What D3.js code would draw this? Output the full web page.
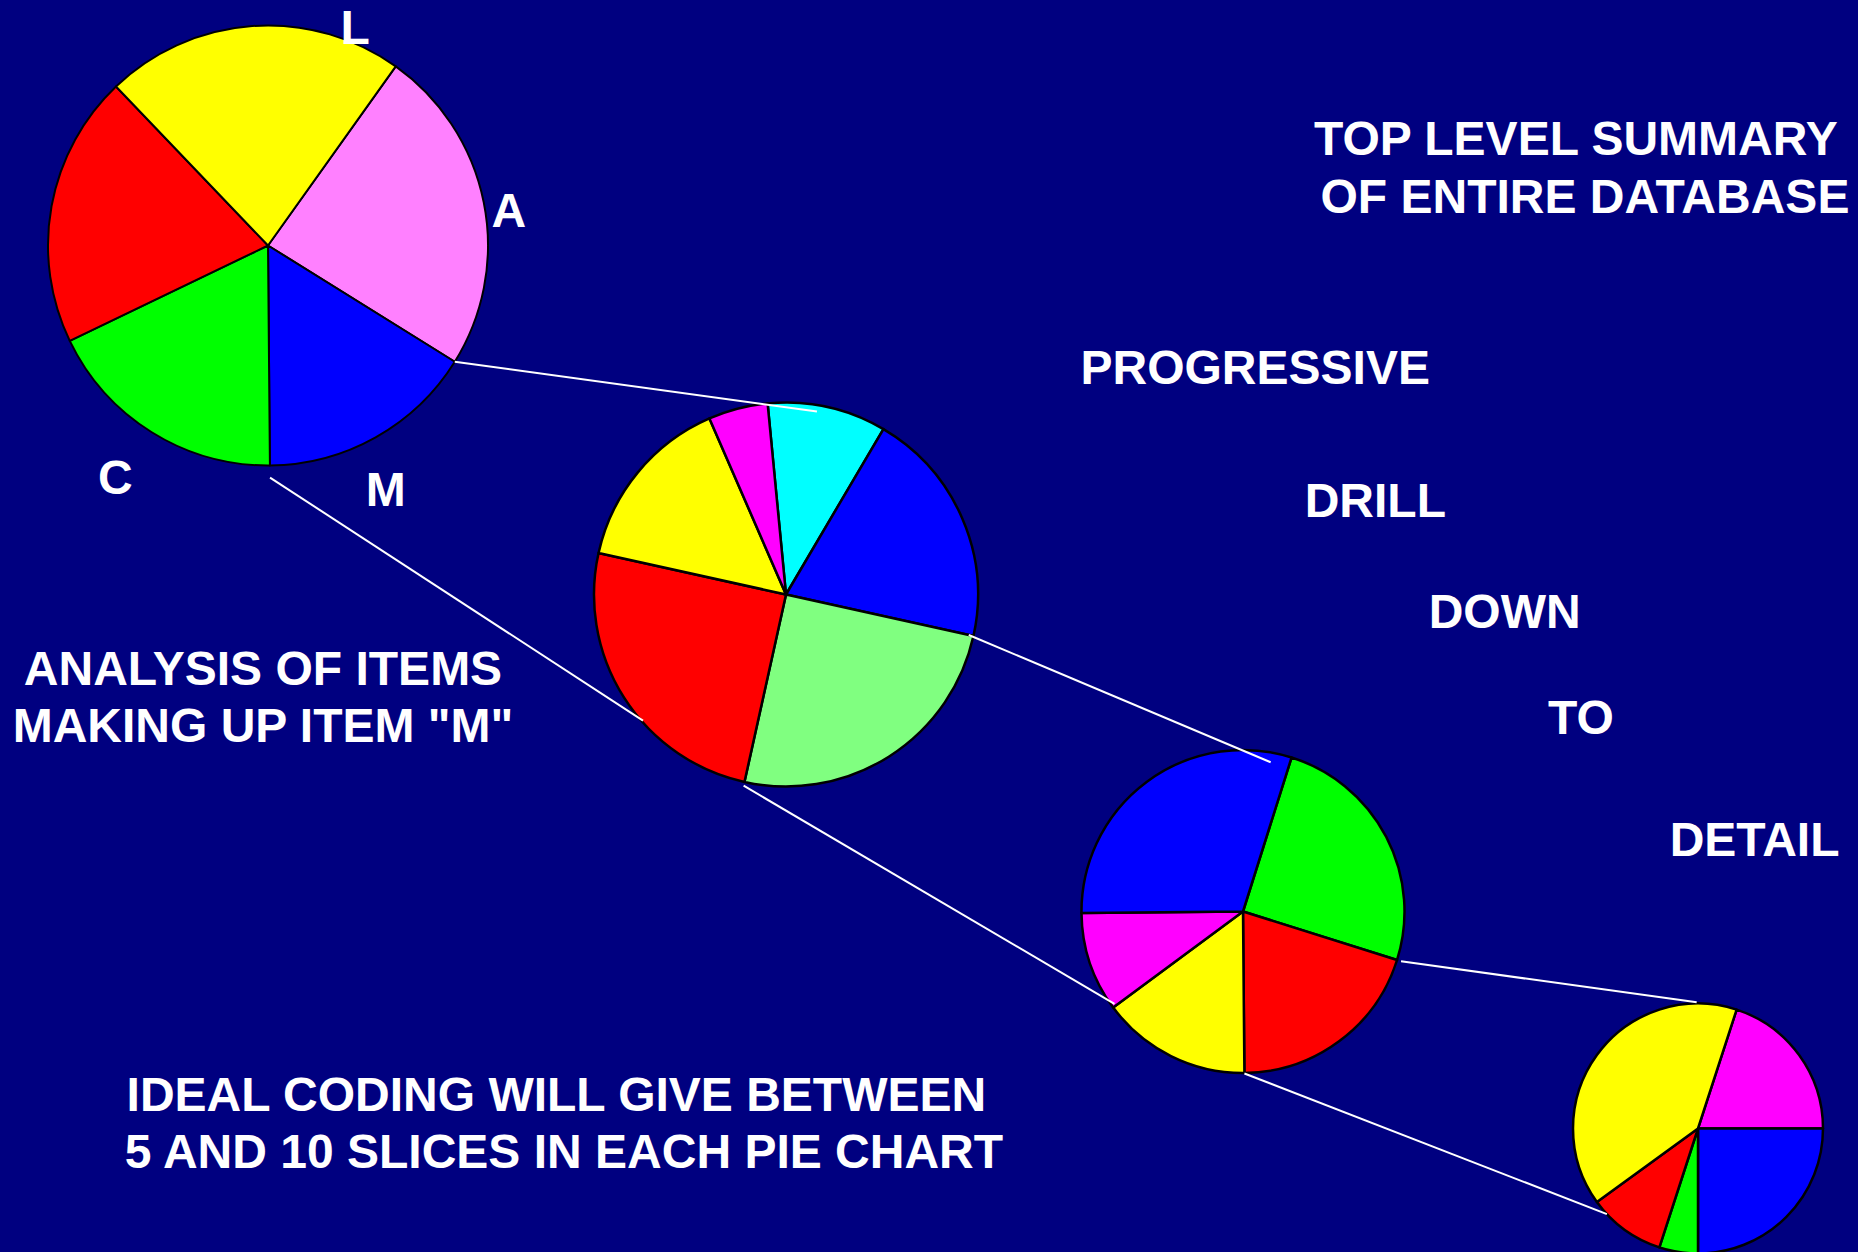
<!DOCTYPE html>
<html>
<head>
<meta charset="utf-8">
<script src="https://cdn.jsdelivr.net/npm/d3@7"></script>
<style>
  html, body { margin: 0; padding: 0; background: #000080; }
  svg { display: block; }
  text { font-family: "Liberation Sans", Arial, sans-serif; font-weight: bold; fill: #ffffff; }
</style>
</head>
<body>
<svg id="chart" width="1858" height="1252"></svg>
<script>
// ---- Data: one array per pie level (percent of parent slice) ----
const topLevelNames   = ["A", "M", "C", "", "L"];
const topLevelValues  = [24, 16, 18, 20, 22];
const topLevelColors  = ["#ff80ff", "#0000ff", "#00ff00", "#ff0000", "#ffff00"];

const itemMNames      = ["M1", "M2", "M3", "M4", "M5", "M6"];
const itemMValues     = [10, 20, 25, 25, 15, 5];
const itemMColors     = ["#00ffff", "#0000ff", "#80ff80", "#ff0000", "#ffff00", "#ff00ff"];

const level3Names     = ["G1", "G2", "G3", "G4", "G5"];
const level3Values    = [25, 20, 15, 10, 30];
const level3Colors    = ["#00ff00", "#ff0000", "#ffff00", "#ff00ff", "#0000ff"];

const detailNames     = ["D1", "D2", "D3", "D4", "D5"];
const detailValues    = [20, 25, 5, 10, 40];
const detailColors    = ["#ff00ff", "#0000ff", "#00ff00", "#ff0000", "#ffff00"];

// Slice that is expanded into the next pie
const drilledSlice    = [1, 2, 1];

// Caption texts
const headingLines    = ["TOP LEVEL SUMMARY", "OF ENTIRE DATABASE"];
const stepWords       = ["PROGRESSIVE", "DRILL", "DOWN", "TO", "DETAIL"];
const analysisLines   = ["ANALYSIS OF ITEMS", "MAKING UP ITEM \"M\""];
const footerLines     = ["IDEAL CODING WILL GIVE BETWEEN", "5 AND 10 SLICES IN EACH PIE CHART"];

// ---- Layout ----
const svg = d3.select("#chart");
svg.append("rect").attr("width", 1858).attr("height", 1252).attr("fill", "#000080");

const rad = d => d * Math.PI / 180;

const pies = [
  { names: topLevelNames, values: topLevelValues, colors: topLevelColors, cx: 268,  cy: 245.5, r: 220, start: 35.5, stroke: 2 },
  { names: itemMNames,    values: itemMValues,    colors: itemMColors,    cx: 786,  cy: 594.5, r: 192, start: -5.5, stroke: 2.5 },
  { names: level3Names,   values: level3Values,   colors: level3Colors,   cx: 1243, cy: 911.5, r: 161.5, start: 17.5, stroke: 2.5 },
  { names: detailNames,   values: detailValues,   colors: detailColors,   cx: 1698, cy: 1128.5, r: 125, start: 18, stroke: 2.5 }
];

// connector anchor tweaks: radial factors on parent, entry angles/factors on child
const linkStyle = [
  { fromR: [1.0, 1.055],  toA: [9.6, 228.6],  toR: [0.967, 0.993] },
  { fromR: [0.975, 1.02], toA: [10.5, 234.3], toR: [0.94, 0.98] },
  { fromR: [1.026, 1.003],toA: [-0.6, 226.8], toR: [1.01, 1.0] }
];

const arcsByPie = pies.map(p => {
  const layout = d3.pie().sort(null).value(d => d)
    .startAngle(rad(p.start)).endAngle(rad(p.start) + 2 * Math.PI);
  return layout(p.values);
});

// pies
pies.forEach((p, i) => {
  const arc = d3.arc().innerRadius(0).outerRadius(p.r);
  const g = svg.append("g").attr("transform", `translate(${p.cx},${p.cy})`);
  g.selectAll("path").data(arcsByPie[i]).join("path")
    .attr("d", arc)
    .attr("fill", (d, k) => p.colors[k])
    .attr("stroke", "#000")
    .attr("stroke-width", p.stroke)
    .attr("stroke-linejoin", "round");
});

// top-level slice labels, placed around each slice's mid angle
const labelTweak = { A: [2.9, 1.107], M: [3.5, 1.23], C: [1.5, 1.26], L: [25.8, 1.07] };
{
  const p = pies[0];
  const g = svg.append("g").attr("transform", `translate(${p.cx},${p.cy})`);
  g.selectAll("text").data(arcsByPie[0].filter((d, k) => p.names[k])).join("text")
    .attr("text-anchor", "middle")
    .attr("font-size", 48)
    .attr("dy", "0.36em")
    .attr("transform", d => {
      const name = p.names[d.index];
      const t = labelTweak[name] || [0, 1.15];
      const a = (d.startAngle + d.endAngle) / 2 + rad(t[0]);
      const [x, y] = d3.pointRadial(a, p.r * t[1]);
      return `translate(${x},${y})`;
    })
    .text(d => p.names[d.index]);
}

// drill-down connector lines
drilledSlice.forEach((s, i) => {
  const parent = pies[i], child = pies[i + 1], st = linkStyle[i];
  const d = arcsByPie[i][s];
  const ends = [d.startAngle, d.endAngle];
  ends.forEach((a, k) => {
    const [x1, y1] = d3.pointRadial(a, parent.r * st.fromR[k]);
    const [x2, y2] = d3.pointRadial(rad(st.toA[k]), child.r * st.toR[k]);
    svg.append("line")
      .attr("x1", parent.cx + x1).attr("y1", parent.cy + y1)
      .attr("x2", child.cx + x2).attr("y2", child.cy + y2)
      .attr("stroke", "#ffffff").attr("stroke-width", 2);
  });
});

// captions
const txt = (s, x, y, anchor) => svg.append("text")
  .attr("x", x).attr("y", y).attr("font-size", 48)
  .attr("text-anchor", anchor || "start").text(s);

txt(headingLines[0], 1314, 155);
txt(headingLines[1], 1320.5, 213);

const stepPos = [[1080.5, 384], [1304.7, 516.7], [1428.7, 627.7], [1548, 734], [1669.7, 855.7]];
stepWords.forEach((w, k) => txt(w, stepPos[k][0], stepPos[k][1]));

txt(analysisLines[0], 263, 685, "middle");
txt(analysisLines[1], 263, 741.7, "middle");

txt(footerLines[0], 126.6, 1110.7);
txt(footerLines[1], 124.7, 1168.3);
</script>
</body>
</html>
